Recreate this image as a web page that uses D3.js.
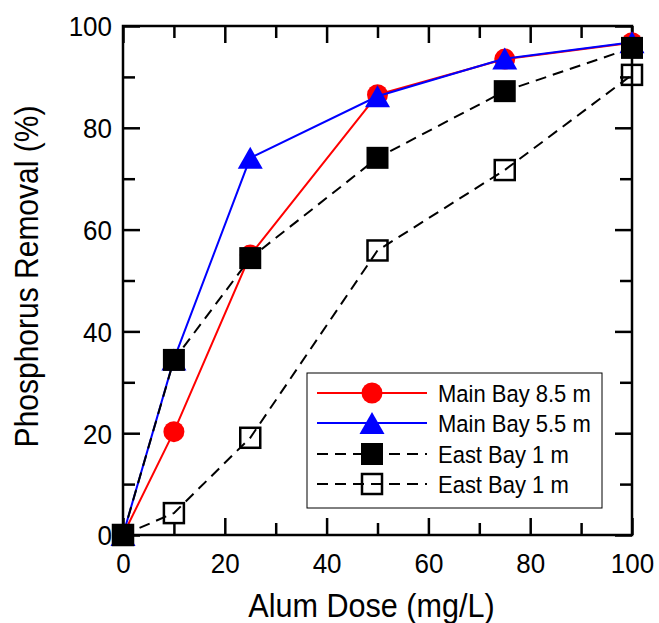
<!DOCTYPE html>
<html>
<head>
<meta charset="utf-8">
<script src="https://cdn.jsdelivr.net/npm/d3@7/dist/d3.min.js"></script>
<style>
  html, body { margin: 0; padding: 0; background: #fff; }
  svg { display: block; font-family: "Liberation Sans", Arial, sans-serif; }
</style>
</head>
<body>
<svg id="chart" width="659" height="623"></svg>
<script>
// Alum dose (mg/L) applied in each jar test
const doses = [0, 10, 25, 50, 75, 100];

// Phosphorus removal (%) per site
const mainBay85 = [0, 20.3, 55.0, 86.5, 93.5, 96.7];
const mainBay55 = [0, 34.5, 74.1, 86.2, 93.6, 96.8];
const eastBayFilled = [0, 34.4, 54.4, 74.1, 87.2, 95.7];
const eastBayOpen = [0, 4.3, 19.1, 55.9, 71.7, 90.4];

const seriesNames = ["Main Bay 8.5 m", "Main Bay 5.5 m", "East Bay 1 m", "East Bay 1 m"];

const xTicks = [0, 20, 40, 60, 80, 100];
const yTicks = [0, 20, 40, 60, 80, 100];
const xMinor = [10, 30, 50, 70, 90];
const yMinor = [10, 30, 50, 70, 90];

const series = [
  { name: seriesNames[0], values: mainBay85, color: "#ff0000", dash: null, marker: "circle" },
  { name: seriesNames[1], values: mainBay55, color: "#0000ff", dash: null, marker: "triangle" },
  { name: seriesNames[2], values: eastBayFilled, color: "#000000", dash: "11,7", marker: "square" },
  { name: seriesNames[3], values: eastBayOpen, color: "#000000", dash: "11,7", marker: "openSquare" }
];

const svg = d3.select("#chart");
const plotL = 123, plotR = 632, plotT = 26, plotB = 535;

const x = d3.scaleLinear().domain([0, 100]).range([plotL, plotR]);
const y = d3.scaleLinear().domain([0, 100]).range([plotB, plotT]);

const majorLen = 17, minorLen = 12, axisW = 2.5;
const tall = 1.08; // glyphs are drawn slightly taller than wide

// Frame
svg.append("rect")
  .attr("x", plotL).attr("y", plotT)
  .attr("width", plotR - plotL).attr("height", plotB - plotT)
  .attr("fill", "none").attr("stroke", "#000").attr("stroke-width", axisW);

// Inward ticks on all four sides using d3 axes
function tickAxis(axisFn, scale, values, len, transform) {
  const g = svg.append("g").attr("transform", transform)
    .call(axisFn(scale).tickValues(values).tickSize(len).tickFormat(""));
  g.select(".domain").remove();
  g.selectAll(".tick line").attr("stroke", "#000").attr("stroke-width", axisW);
  return g;
}
// bottom (ticks pointing up) / top (pointing down)
tickAxis(d3.axisTop, x, xTicks, majorLen, `translate(0,${plotB})`);
tickAxis(d3.axisTop, x, xMinor, minorLen, `translate(0,${plotB})`);
tickAxis(d3.axisBottom, x, xTicks, majorLen, `translate(0,${plotT})`);
tickAxis(d3.axisBottom, x, xMinor, minorLen, `translate(0,${plotT})`);
// left (pointing right) / right (pointing left)
tickAxis(d3.axisRight, y, yTicks, majorLen, `translate(${plotL},0)`);
tickAxis(d3.axisRight, y, yMinor, minorLen, `translate(${plotL},0)`);
tickAxis(d3.axisLeft, y, yTicks, majorLen, `translate(${plotR},0)`);
tickAxis(d3.axisLeft, y, yMinor, minorLen, `translate(${plotR},0)`);

// Tick labels
const xLab = svg.append("g").attr("transform", `translate(0,${plotB})`)
  .call(d3.axisBottom(x).tickValues(xTicks).tickSize(0).tickPadding(0).tickFormat(d3.format("d")));
xLab.select(".domain").remove();
xLab.selectAll("text").attr("y", 0).attr("dy", null)
  .attr("transform", `translate(0,38) scale(1,${tall})`)
  .attr("font-size", 26).attr("font-family", "Liberation Sans, Arial, sans-serif").attr("fill", "#000");

const yLab = svg.append("g").attr("transform", `translate(${plotL},0)`)
  .call(d3.axisLeft(y).tickValues(yTicks).tickSize(0).tickPadding(0).tickFormat(d3.format("d")));
yLab.select(".domain").remove();
yLab.selectAll("text").attr("x", 0).attr("dy", "0.35em")
  .attr("transform", `translate(-11,0) scale(1,${tall})`)
  .attr("font-size", 26).attr("font-family", "Liberation Sans, Arial, sans-serif").attr("fill", "#000");

// Axis titles
svg.append("text")
  .attr("transform", `translate(${(plotL + plotR) / 2 - 6},617) scale(1.02,${tall})`)
  .attr("text-anchor", "middle").attr("font-size", 30).attr("fill", "#000")
  .text("Alum Dose (mg/L)");
svg.append("text")
  .attr("transform", `translate(38,${(plotT + plotB) / 2 - 4}) rotate(-90) scale(1,${tall})`)
  .attr("text-anchor", "middle").attr("font-size", 30).attr("fill", "#000")
  .text("Phosphorus Removal (%)");

// Marker drawing
function drawMarker(g, type, color, cx, cy) {
  if (type === "circle") {
    g.append("circle").attr("cx", cx).attr("cy", cy).attr("r", 10.5).attr("fill", color);
  } else if (type === "triangle") {
    const w = 25, h = 22;
    g.append("path")
      .attr("d", `M${cx},${cy - h / 2} L${cx + w / 2},${cy + h / 2} L${cx - w / 2},${cy + h / 2} Z`)
      .attr("fill", color);
  } else if (type === "square") {
    g.append("rect").attr("x", cx - 11).attr("y", cy - 11).attr("width", 22).attr("height", 22).attr("fill", color);
  } else if (type === "openSquare") {
    g.append("rect").attr("x", cx - 10).attr("y", cy - 10).attr("width", 20).attr("height", 20)
      .attr("fill", "none").attr("stroke", color).attr("stroke-width", 2.5);
  }
}

const line = d3.line().x((d, i) => x(doses[i])).y(d => y(d));

series.forEach(s => {
  const g = svg.append("g");
  g.append("path")
    .attr("d", line(s.values))
    .attr("fill", "none").attr("stroke", s.color).attr("stroke-width", 2)
    .attr("stroke-dasharray", s.dash);
  s.values.forEach((v, i) => drawMarker(g, s.marker, s.color, x(doses[i]), y(v)));
});

// Legend
const lg = svg.append("g");
lg.append("rect").attr("x", 307).attr("y", 373).attr("width", 295).attr("height", 135)
  .attr("fill", "#fff").attr("stroke", "#000").attr("stroke-width", 1);
const rowY = [393, 423, 454, 484];
series.forEach((s, i) => {
  const ry = rowY[i];
  lg.append("line").attr("x1", 317).attr("x2", 427).attr("y1", ry).attr("y2", ry)
    .attr("stroke", s.color).attr("stroke-width", 2).attr("stroke-dasharray", s.dash);
  drawMarker(lg, s.marker, s.color, 372, ry);
  lg.append("text").attr("transform", `translate(438,${ry}) scale(1,${tall})`).attr("dy", "0.36em")
    .attr("font-size", 22).attr("fill", "#000").text(s.name);
});
</script>
</body>
</html>
